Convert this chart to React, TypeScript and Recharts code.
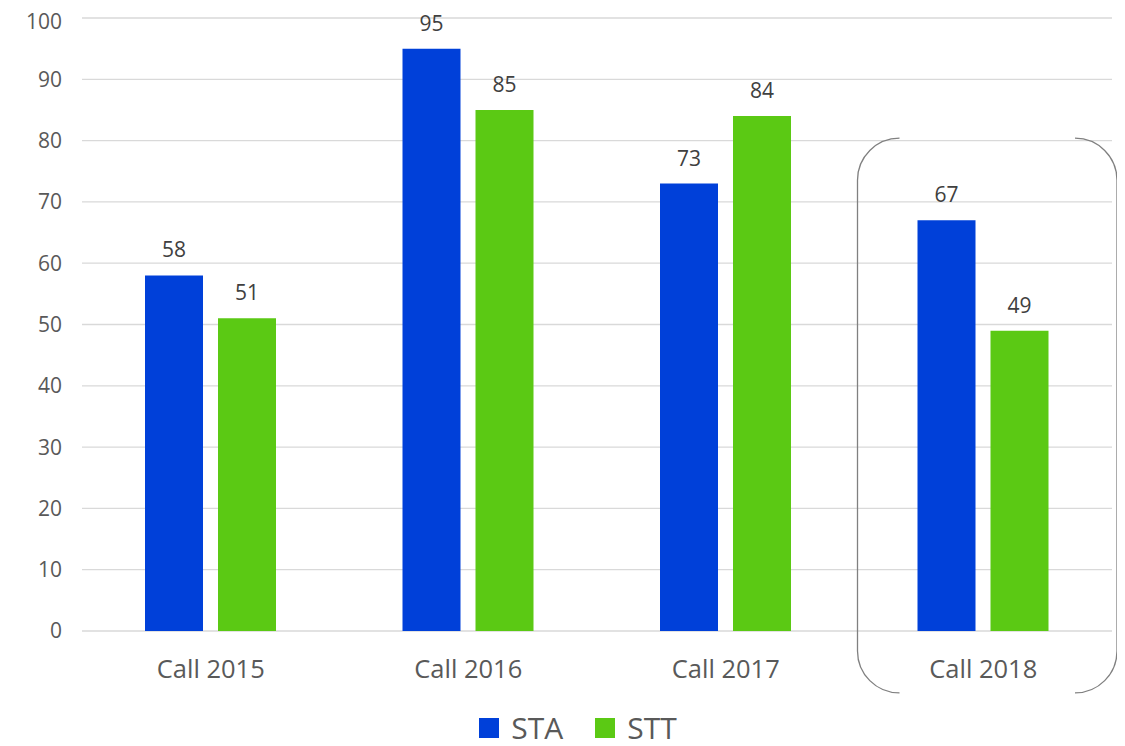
import React from "react";
import { BarChart, Bar, XAxis, YAxis, CartesianGrid, Legend, LabelList, ReferenceArea } from "recharts";

const categories = ["Call 2015", "Call 2016", "Call 2017", "Call 2018"];
const staValues = [58, 95, 73, 67];
const sttValues = [51, 85, 84, 49];
const yTicks = [0, 10, 20, 30, 40, 50, 60, 70, 80, 90, 100];
const highlightCategory = "Call 2018";

const data = categories.map((c, i) => ({ name: c, STA: staValues[i], STT: sttValues[i] }));

const BLUE = "#0040D9";
const GREEN = "#5BC914";
const FONT = "'Open Sans', sans-serif";

const Bracket = (props: any) => {
  const { x, y, width, height } = props;
  const r = 42;
  const x0 = x + 3;
  const x1 = x + width + 5;
  const d1 = `M ${x0 + r} ${y} A ${r} ${r} 0 0 0 ${x0} ${y + r} L ${x0} ${y + height - r} A ${r} ${r} 0 0 0 ${x0 + r} ${y + height}`;
  const d2 = `M ${x1 - r} ${y} A ${r} ${r} 0 0 1 ${x1} ${y + r} L ${x1} ${y + height - r} A ${r} ${r} 0 0 1 ${x1 - r} ${y + height}`;
  return (
    <g>
      <path d={d1} fill="none" stroke="#808080" strokeWidth={1.3} />
      <path d={d2} fill="none" stroke="#808080" strokeWidth={1.3} />
    </g>
  );
};

const LegendContent = () => (
  <div style={{ display: "flex", justifyContent: "center", alignItems: "center", height: 45, paddingTop: 8, boxSizing: "border-box", fontFamily: FONT, fontSize: 30, lineHeight: "32px", color: "#595959", paddingLeft: 36 }}>
    {[{ n: "STA", c: BLUE }, { n: "STT", c: GREEN }].map((it) => (
      <div key={it.n} style={{ display: "flex", alignItems: "center", margin: "0 16px" }}>
        <div style={{ width: 20, height: 20, background: it.c, marginRight: 12 }} />
        <span>{it.n}</span>
      </div>
    ))}
  </div>
);

export default function App() {
  return (
    <BarChart
      width={1117}
      height={738}
      data={data}
      margin={{ top: 10, right: 13, left: 0, bottom: 0 }}
      barCategoryGap={63}
      barGap={15}
      style={{ fontFamily: FONT }}
    >
      <CartesianGrid vertical={false} stroke="#D9D9D9" strokeWidth={1.3} />
      <XAxis
        dataKey="name"
        axisLine={false}
        tickLine={false}
        height={70}
        tick={{ fontSize: 25.5, fill: "#595959", fontFamily: FONT }}
        tickMargin={23}
      />
      <YAxis
        domain={[0, 100]}
        ticks={yTicks}
        axisLine={false}
        tickLine={false}
        width={74}
        tick={{ fontSize: 21, fill: "#595959", fontFamily: FONT }}
        tickMargin={14}
      />
      <Legend verticalAlign="bottom" height={45} content={<LegendContent />} />
      <ReferenceArea
        x1={highlightCategory}
        x2={highlightCategory}
        y1={-10.1}
        y2={80.4}
        ifOverflow="visible"
        shape={<Bracket />}
      />
      <Bar dataKey="STA" fill={BLUE} barSize={58} isAnimationActive={false}>
        <LabelList dataKey="STA" position="top" offset={18} style={{ fontSize: 21, fill: "#404040", fontFamily: FONT }} />
      </Bar>
      <Bar dataKey="STT" fill={GREEN} barSize={58} isAnimationActive={false}>
        <LabelList dataKey="STT" position="top" offset={18} style={{ fontSize: 21, fill: "#404040", fontFamily: FONT }} />
      </Bar>
    </BarChart>
  );
}
